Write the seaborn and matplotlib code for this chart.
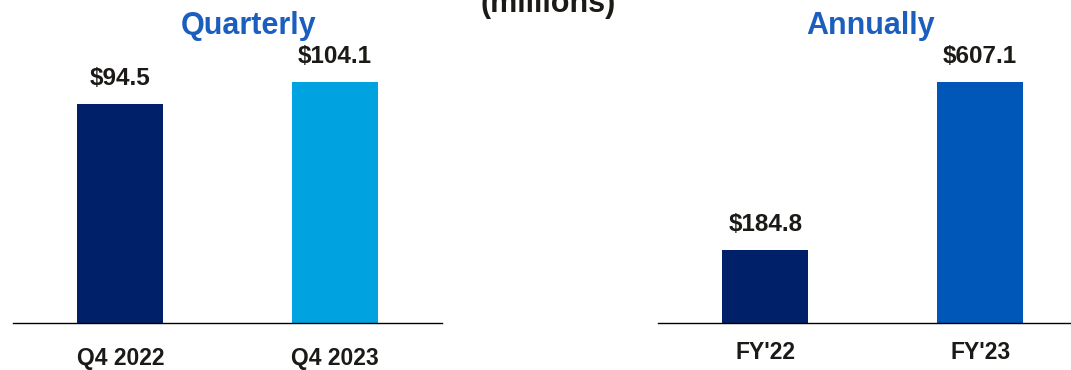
import matplotlib
matplotlib.use("Agg")
import matplotlib.pyplot as plt
import seaborn as sns
import pandas as pd

# ---- data ----
q_labels = ["Q4 2022", "Q4 2023"]
q_values = [94.5, 104.1]
a_labels = ["FY'22", "FY'23"]
a_values = [184.8, 607.1]

q_colors = ["#002169", "#00A3E0"]
a_colors = ["#002169", "#0057B8"]
title_blue = "#1B5EBE"
text_dark = "#1C1A17"

sns.set_theme(style="white")
plt.rcParams["font.family"] = ["Liberation Sans", "DejaVu Sans"]
plt.rcParams["font.weight"] = "bold"

W, H = 1071, 370
fig = plt.figure(figsize=(W / 100, H / 100), dpi=100)

base = 1 - 323 / H
ax1 = fig.add_axes([13 / W, base, (442 - 13) / W, 1 - base])
ax2 = fig.add_axes([658 / W, base, (1071 - 658) / W, 1 - base])


def draw(ax, labels, values, colors, ylim_top, xlim_right, pad):
    df = pd.DataFrame({"cat": labels, "val": values})
    sns.barplot(data=df, x="cat", y="val", hue="cat", palette=colors,
                width=0.4, legend=False, ax=ax, saturation=1, linewidth=0)
    ax.set_xlim(-0.5, xlim_right)
    ax.set_ylim(0, ylim_top)
    for s in ["top", "right", "left"]:
        ax.spines[s].set_visible(False)
    ax.spines["bottom"].set_color("black")
    ax.spines["bottom"].set_linewidth(1.0)
    ax.set_yticks([])
    ax.set_xlabel("")
    ax.set_ylabel("")
    ax.tick_params(axis="x", length=0, pad=pad, labelsize=16.5, labelcolor=text_dark)
    for lab in ax.get_xticklabels():
        lab.set_fontweight("bold")
    ax.patch.set_alpha(0)
    for cont in ax.containers:
        ax.bar_label(cont, labels=[f"${v:.1f}" for v in cont.datavalues],
                     padding=10, fontsize=17.5, fontweight="bold", color=text_dark)


draw(ax1, q_labels, q_values, q_colors, 323 / 2.316, 1.5, 17.5)
draw(ax2, a_labels, a_values, a_colors, 323 / 0.3965, 1.423, 13)

fig.text(249 / W, 1 - 34 / H, "Quarterly", ha="center", va="baseline",
         fontsize=22, fontweight="bold", color=title_blue)
fig.text(871 / W, 1 - 34 / H, "Annually", ha="center", va="baseline",
         fontsize=22, fontweight="bold", color=title_blue)
fig.text(548 / W, 1 - 12 / H, "(millions)", ha="center", va="baseline",
         fontsize=22, fontweight="bold", color=text_dark)

fig.savefig("out.png", dpi=100)
